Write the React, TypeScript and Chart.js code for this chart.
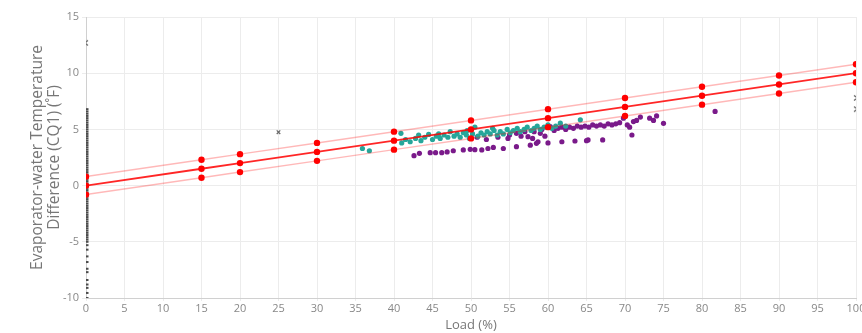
import React, { useEffect, useRef } from "react";
import { Chart, registerables } from "chart.js";

Chart.register(...registerables);

const fitLoads = [0, 15, 20, 30, 40, 50, 60, 70, 80, 90, 100];
const fitCenter = [0, 1.5, 2, 3, 4, 5, 6, 7, 8, 9, 10];
const fitUpper = [0.8, 2.3, 2.8, 3.8, 4.8, 5.8, 6.8, 7.8, 8.8, 9.8, 10.8];
const fitLower = [-0.8, 0.7, 1.2, 2.2, 3.2, 4.2, 5.2, 6.2, 7.2, 8.2, 9.2];

const tealPoints: [number, number][] = [
  [35.9, 3.3], [36.8, 3.1], [40.9, 4.65], [41, 3.8], [41.5, 4.1], [42.1, 3.9], [42.8, 4.2], [43.2, 4.5],
  [43.5, 4.0], [44, 4.3], [44.5, 4.55], [45, 4.1], [45.5, 4.4], [45.8, 4.6], [46, 4.2], [46.5, 4.5],
  [47, 4.3], [47.3, 4.8], [47.8, 4.4], [48.2, 4.6], [48.6, 4.3], [49, 4.7], [49.4, 4.5], [49.5, 4.9],
  [49.8, 4.2], [50.2, 4.6], [50.5, 5.2], [50.9, 4.4], [51.3, 4.7], [51.7, 4.5], [52.1, 4.8], [52.5, 4.6],
  [52.8, 5.1], [53, 4.9], [53.4, 4.5], [53.8, 4.8], [54.2, 4.6], [54.7, 5.0], [55.1, 4.7], [55.5, 4.9],
  [56, 5.1], [56.4, 4.8], [56.9, 5.0], [57.3, 5.2], [57.8, 4.9], [58.2, 5.1], [58.6, 5.3], [59, 5.0],
  [59.5, 5.2], [60, 5.4], [60.5, 5.1], [61, 5.3], [61.6, 5.55], [62.3, 5.3], [64.2, 5.85],
];

const purplePoints: [number, number][] = [
  [42.6, 2.66], [43.3, 2.87], [44.7, 2.93], [45.4, 2.93], [46.2, 2.93], [46.9, 3.0], [47.7, 3.1], [49, 3.17],
  [49.9, 3.23], [50.5, 3.2], [51.4, 3.17], [52.2, 3.3], [52.9, 3.4], [54.2, 3.3], [55.9, 3.46], [57.7, 3.6],
  [58.5, 3.76], [60, 3.8], [61.8, 3.9], [63.5, 3.97], [65, 4.0], [65.2, 4.06], [67.1, 4.06], [70.9, 4.5],
  [50.8, 4.3], [52.0, 4.1], [53.5, 4.3], [54.8, 4.2], [55, 4.5], [55.9, 4.65], [56.5, 4.4], [57, 4.8],
  [57.4, 4.35], [58, 4.2], [58.7, 3.9], [59, 4.65], [59.6, 4.4],
  [58.2, 4.8], [59.2, 5.0], [60.3, 5.24], [60.8, 4.9], [61.3, 5.1], [61.8, 5.2], [62.3, 5.0], [62.8, 5.2],
  [63.3, 5.1], [63.8, 5.3], [64.3, 5.2], [64.8, 5.3], [65.3, 5.2], [65.8, 5.4], [66.3, 5.3], [66.8, 5.4],
  [67.3, 5.3], [67.8, 5.5], [68.3, 5.4], [68.8, 5.5], [69.3, 5.6], [69.8, 6.0], [70.3, 5.4], [70.6, 5.2],
  [71.1, 5.7], [71.5, 5.8], [72, 6.1], [73.2, 6.0], [73.7, 5.8], [74.1, 6.2], [75, 5.54], [81.7, 6.6],
];

const zeroLoadValues = [
  6.8, 6.6, 6.4, 6.2, 6.0, 5.8, 5.6, 5.4, 5.2, 5.0, 4.8, 4.6, 4.4, 4.2, 4.0, 3.8, 3.6, 3.4, 3.2, 3.0,
  2.8, 2.6, 2.4, 2.2, 2.0, 1.8, 1.6, 1.4, 1.2, 1.0, 0.8, 0.6, 0.4, 0.2, 0, -0.2, -0.4, -0.6, -0.8, -1.0,
  -1.2, -1.4, -1.6, -1.8, -2.0, -2.2, -2.4, -2.6, -2.8, -3.0, -3.2, -3.4, -3.6, -3.8, -4.0, -4.2, -4.4,
  -4.6, -4.8, -5.0, -5.3, -5.7, -6.3, -6.8, -7.4, -7.7, -8.4, -8.8, -9.1, -9.55, -10,
];

const crossPoint: [number, number][] = [[25, 4.75]];
const offLeftPoint: [number, number][] = [[0, 12.7]];
const offRightPoints: [number, number][] = [[100, 7.8], [100, 6.8]];

const xTicks = { min: 0, max: 100, step: 5 };
const yTicks = { min: -10, max: 15, step: 5 };

function arrowImage(dir: "left" | "right") {
  const c = document.createElement("canvas");
  c.width = 8;
  c.height = 8;
  const ctx = c.getContext("2d")!;
  ctx.strokeStyle = "#666";
  ctx.lineWidth = 1.4;
  ctx.beginPath();
  if (dir === "left") {
    ctx.moveTo(6, 1.5);
    ctx.lineTo(2.5, 4);
    ctx.lineTo(6, 6.5);
  } else {
    ctx.moveTo(2, 1.5);
    ctx.lineTo(5.5, 4);
    ctx.lineTo(2, 6.5);
  }
  ctx.stroke();
  return c;
}

export default function App() {
  const ref = useRef<HTMLCanvasElement>(null);

  useEffect(() => {
    if (!ref.current) return;
    const toXY = (arr: [number, number][]) => arr.map(([x, y]) => ({ x, y }));
    const fit = (ys: number[]) => fitLoads.map((x, i) => ({ x, y: ys[i] }));
    const font = "'Open Sans', 'DejaVu Sans', sans-serif";

    const chart = new Chart(ref.current, {
      type: "scatter",
      data: {
        datasets: [
          {
            data: fit(fitCenter),
            showLine: true,
            borderColor: "rgba(255,0,0,0.85)",
            borderWidth: 1.8,
            backgroundColor: "#ff0000",
            pointBackgroundColor: "#ff0000",
            pointBorderWidth: 0,
            pointRadius: 3.2,
          },
          {
            data: fit(fitUpper),
            showLine: true,
            borderColor: "rgba(255,0,0,0.28)",
            borderWidth: 1.5,
            pointBackgroundColor: "#ff0000",
            pointBorderWidth: 0,
            pointRadius: 3.2,
          },
          {
            data: fit(fitLower),
            showLine: true,
            borderColor: "rgba(255,0,0,0.28)",
            borderWidth: 1.5,
            pointBackgroundColor: "#ff0000",
            pointBorderWidth: 0,
            pointRadius: 3.2,
          },
          {
            data: toXY(tealPoints),
            pointBackgroundColor: "#26a69a",
            pointBorderWidth: 0,
            pointRadius: 2.6,
          },
          {
            data: toXY(purplePoints),
            pointBackgroundColor: "#7a1a8a",
            pointBorderWidth: 0,
            pointRadius: 2.6,
          },
          {
            data: zeroLoadValues.map((y) => ({ x: 0, y })),
            pointStyle: "line",
            borderColor: "#4a4a4a",
            pointBorderColor: "#4a4a4a",
            pointBorderWidth: 2,
            pointRadius: 2.5,
          },
          {
            data: toXY(crossPoint),
            pointStyle: "crossRot",
            pointBorderColor: "#666",
            pointBorderWidth: 1.2,
            pointRadius: 2.5,
          },
          {
            data: toXY(offLeftPoint),
            pointStyle: arrowImage("left"),
          },
          {
            data: toXY(offRightPoints),
            pointStyle: arrowImage("right"),
          },
        ],
      },
      options: {
        animation: false,
        responsive: true,
        maintainAspectRatio: false,
        layout: { padding: { left: 29, top: 17, right: 24, bottom: 0 } },
        plugins: { legend: { display: false }, tooltip: { enabled: false } },
        scales: {
          x: {
            type: "linear",
            min: xTicks.min,
            max: xTicks.max,
            ticks: { stepSize: xTicks.step, color: "#888", font: { family: font, size: 11 }, padding: 1, maxRotation: 0 },
            grid: { color: "#ececec", tickLength: 3 },
            border: { color: "#d0d0d0" },
            title: { display: true, text: "Load (%)", color: "#777", font: { family: font, size: 13 }, padding: { top: 0, bottom: 0 } },
            afterFit: (s: any) => { s.height = 35; },
          },
          y: {
            type: "linear",
            min: yTicks.min,
            max: yTicks.max,
            ticks: { stepSize: yTicks.step, color: "#888", font: { family: font, size: 11 }, padding: 3 },
            grid: { color: "#ececec", tickLength: 4 },
            border: { color: "#d0d0d0" },
            title: {
              display: true,
              text: ["Evaporator-water Temperature", "Difference (CQ1) (˚F)"],
              color: "#777",
              font: { family: font, size: 15.5, lineHeight: 1.1 },
              padding: { top: 0, bottom: 0 },
            },
            afterFit: (s: any) => { s.width = 57; },
          },
        },
      },
    });
    return () => chart.destroy();
  }, []);

  return (
    <div style={{ position: "fixed", left: 0, top: 0, width: 862, height: 333, overflow: "hidden", background: "#fff" }}>
      <div style={{ position: "relative", width: 880, height: 333 }}>
        <canvas ref={ref} />
      </div>
    </div>
  );
}
